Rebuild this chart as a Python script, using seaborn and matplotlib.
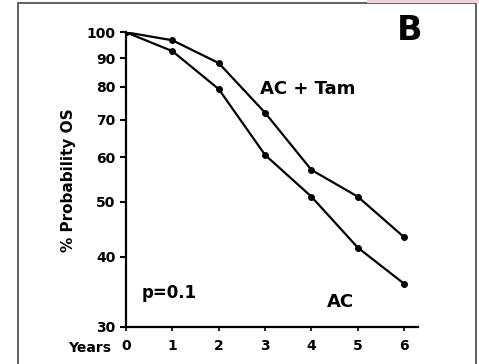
import numpy as np
import pandas as pd
import matplotlib
matplotlib.use("Agg")
import matplotlib.pyplot as plt
import seaborn as sns
from matplotlib.patches import Rectangle
from matplotlib.ticker import FixedLocator, NullLocator

years = [0, 1, 2, 3, 4, 5, 6]
ac_tam = [100, 96.8, 88.2, 72.0, 57.0, 51.1, 43.3]
ac = [100, 92.6, 79.3, 60.6, 51.1, 41.5, 35.8]
y_ticks = [30, 40, 50, 60, 70, 80, 90, 100]
x_ticks = [0, 1, 2, 3, 4, 5, 6]

df = pd.DataFrame({
    "Years": years * 2,
    "OS": ac_tam + ac,
    "Group": ["AC + Tam"] * len(years) + ["AC"] * len(years),
})

sns.set_style("ticks")
plt.rcParams["font.family"] = ["DejaVu Sans"]
plt.rcParams["font.weight"] = "bold"
for k in ["text.color", "axes.labelcolor", "xtick.color", "ytick.color",
          "axes.edgecolor", "xtick.labelcolor", "ytick.labelcolor"]:
    plt.rcParams[k] = "black"

W, H = 479, 364
fig = plt.figure(figsize=(W / 100, H / 100), dpi=100)
ax = fig.add_axes([126 / W, 1 - 327 / H, 292 / W, (327 - 32.3) / H])

sns.lineplot(data=df, x="Years", y="OS", hue="Group", palette=["black", "black"],
             marker="o", markersize=4.2, markeredgecolor="black", linewidth=1.6,
             legend=False, ax=ax)

ax.set_yscale("log")
ax.set_ylim(30, 100)
ax.set_xlim(0, 6.3)
ax.yaxis.set_major_locator(FixedLocator(y_ticks))
ax.yaxis.set_minor_locator(NullLocator())
ax.set_yticklabels([str(v) for v in y_ticks])
ax.set_xticks(x_ticks)
ax.set_xticklabels([str(v) for v in x_ticks])
ax.tick_params(axis="y", direction="out", length=4.5, width=1.5, labelsize=10, pad=3,
               colors="black")
ax.tick_params(axis="x", direction="out", length=3, width=1.2, labelsize=10, pad=6,
               colors="black")
for lab in ax.get_xticklabels() + ax.get_yticklabels():
    lab.set_fontweight("bold")

for s in ["top", "right"]:
    ax.spines[s].set_visible(False)
for s in ["left", "bottom"]:
    ax.spines[s].set_linewidth(1.6)
    ax.spines[s].set_color("black")

ax.set_xlabel("")
ax.set_ylabel("")


def ftext(x, y, s, **kw):
    fig.text(x / W, 1 - y / H, s, color="black", **kw)


ftext(69, 180.5, "% Probability OS", fontsize=11, fontweight="bold",
      rotation=90, ha="center", va="center")
ftext(111, 352, "Years", fontsize=10, fontweight="bold", ha="right", va="baseline")
ftext(260, 94.3, "AC + Tam", fontsize=13, fontweight="bold", ha="left", va="baseline")
ftext(327, 307, "AC", fontsize=13, fontweight="bold", ha="left", va="baseline")
ftext(142, 298, "p=0.1", fontsize=12, fontweight="bold", ha="left", va="baseline")
ftext(409.5, 40, "B", fontsize=24, fontweight="bold", ha="center", va="baseline")

# outer frame
fig.patches.append(Rectangle((18 / W, -0.05), (476 - 18) / W, 1 - 3 / H + 0.05,
                             transform=fig.transFigure, fill=False,
                             edgecolor="#555555", linewidth=1.3))
fig.patches.append(Rectangle((367 / W, 1 - 3 / H), 112 / W, 3 / H,
                             transform=fig.transFigure, facecolor="#f3d0d6",
                             edgecolor="none"))

fig.savefig("out.png", dpi=100)
